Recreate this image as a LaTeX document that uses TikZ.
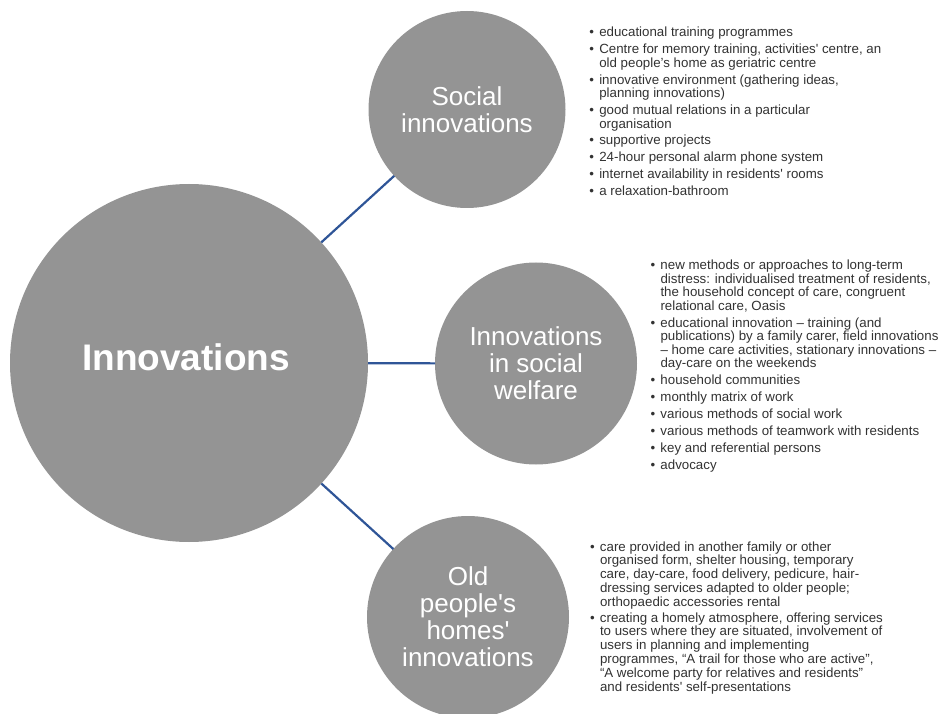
\documentclass[tikz,border=0pt]{standalone}
\usepackage{fontspec}
\setmainfont{Liberation Sans}
\definecolor{bubble}{RGB}{148,148,148}
\definecolor{linkblue}{RGB}{47,85,151}
\definecolor{listtext}{RGB}{50,50,50}
% bullet with hanging indent for the list blocks
\newcommand{\bul}{\makebox[10pt][l]{•}}
\newcommand{\ind}{\hspace*{10pt}}
% straight apostrophe
\newcommand{\sq}{\textquotesingle}
\begin{document}
\begin{tikzpicture}[x=1pt,y=-1pt,
  hub/.style={circle, fill=bubble, draw=none, inner sep=0pt, outer sep=0pt,
    text=white, align=center, font=\fontsize{26}{27}\selectfont},
  hubtext/.style={text=white, inner sep=0pt, font=\fontsize{37}{40}\selectfont\bfseries},
  link/.style={draw=linkblue, line width=2.2pt},
  list/.style={anchor=base west, inner sep=0pt, outer sep=0pt, text=listtext}]

\useasboundingbox (0,0) rectangle (951,714);

% circles
\node[hub, minimum size=358pt,
  label={[hubtext, xshift=-3pt, yshift=6pt]center:Innovations}] (main) at (189,363) {};
\node[hub, minimum size=197pt] (soc) at (467,109.5) {Social\\innovations};
\node[hub, minimum size=202pt] (wel) at (536,363.5) {Innovations\\in social\\welfare};
\node[hub, minimum size=202pt] (old) at (468,617) {Old\\people\sq s\\homes\sq\\innovations};

% connectors
\draw[link] (main) -- (soc);
\draw[link] (main) -- (wel);
\draw[link] (main) -- (old);

% lists
\node[list] (soclist) at (589.3,37) {\fontsize{13.3}{13}\selectfont
\begin{tabular}[t]{@{}l@{}}
\bul educational training programmes\\[3.3pt]
\bul Centre for memory training, activities\sq\ centre, an\\
\ind old people’s home as geriatric centre\\[3.3pt]
\bul innovative environment (gathering ideas,\\
\ind planning innovations)\\[3.3pt]
\bul good mutual relations in a particular\\
\ind organisation\\[3.3pt]
\bul supportive projects\\[3.3pt]
\bul 24-hour personal alarm phone system\\[3.3pt]
\bul internet availability in residents\sq\ rooms\\[3.3pt]
\bul a relaxation-bathroom
\end{tabular}};

\node[list] (wellist) at (650.5,269.5) {\fontsize{13.3}{13}\selectfont
\begin{tabular}[t]{@{}l@{}}
\bul new methods or approaches to long-term\\
\ind distress: individualised treatment of residents,\\
\ind the household concept of care, congruent\\
\ind relational care, Oasis\\[3.5pt]
\bul educational innovation – training (and\\
\ind publications) by a family carer, field innovations\\
\ind – home care activities, stationary innovations –\\
\ind day-care on the weekends\\[3.5pt]
\bul household communities\\[3.5pt]
\bul monthly matrix of work\\[3.5pt]
\bul various methods of social work\\[3.5pt]
\bul various methods of teamwork with residents\\[3.5pt]
\bul key and referential persons\\[3.5pt]
\bul advocacy
\end{tabular}};

\node[list] (oldlist) at (590,551) {\fontsize{13.3}{13.8}\selectfont
\begin{tabular}[t]{@{}l@{}}
\bul care provided in another family or other\\
\ind organised form, shelter housing, temporary\\
\ind care, day-care, food delivery, pedicure, hair-\\
\ind dressing services adapted to older people;\\
\ind orthopaedic accessories rental\\[2pt]
\bul creating a homely atmosphere, offering services\\
\ind to users where they are situated, involvement of\\
\ind users in planning and implementing\\
\ind programmes, “A trail for those who are active”,\\
\ind “A welcome party for relatives and residents”\\
\ind and residents\sq\ self-presentations
\end{tabular}};

\end{tikzpicture}
\end{document}
